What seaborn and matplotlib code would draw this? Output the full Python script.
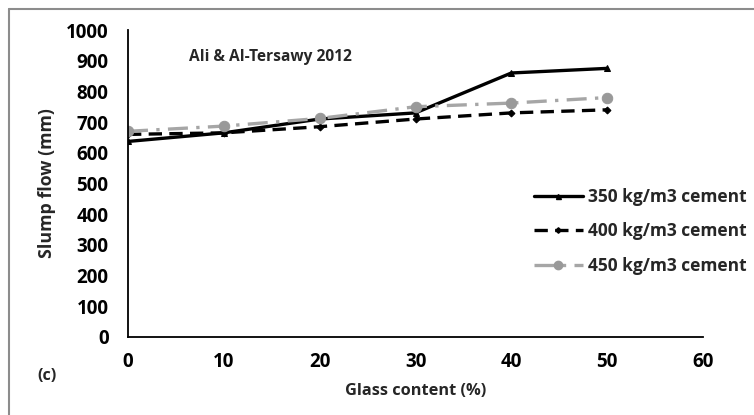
import matplotlib
matplotlib.use("Agg")
import matplotlib.pyplot as plt
import seaborn as sns
import pandas as pd
from matplotlib.lines import Line2D

glass = [0, 10, 20, 30, 40, 50]
c350 = [637, 665, 710, 730, 860, 875]
c400 = [660, 665, 685, 710, 730, 740]
c450 = [670, 687, 712, 750, 762, 780]
labels = ["350 kg/m3 cement", "400 kg/m3 cement", "450 kg/m3 cement"]

df = pd.DataFrame({
    "glass": glass * 3,
    "flow": c350 + c400 + c450,
    "series": [labels[0]] * 6 + [labels[1]] * 6 + [labels[2]] * 6,
})

sns.set_style("white")
FONT = ["Open Sans", "DejaVu Sans"]
plt.rcParams["font.family"] = FONT
plt.rcParams["font.weight"] = "bold"

fig = plt.figure(figsize=(7.54, 4.15), dpi=100)
W, H = 754, 415
ax = fig.add_axes([128 / W, 1 - 337 / H, (703 - 128) / W, (337 - 30) / H])

styles = {
    labels[0]: dict(color="black", ls="-", lw=2.4, marker="^", ms=4.5, mfc="black", mec="black"),
    labels[1]: dict(color="black", ls=(0, (4, 2.2)), lw=2.4, marker="D", ms=3.5, mfc="black", mec="black"),
    labels[2]: dict(color="#a6a6a6", ls=(0, (6, 2.5, 1, 2.5)), lw=2.4, marker="o", ms=7.5, mfc="#999999", mec="#999999"),
}
for lab in labels:
    sub = df[df["series"] == lab]
    sns.lineplot(data=sub, x="glass", y="flow", ax=ax, legend=False, **styles[lab])

ax.set_xlim(0, 60)
ax.set_ylim(0, 1000)
ax.set_xticks(range(0, 61, 10))
ax.set_yticks(range(0, 1001, 100))
for s in ["top", "right"]:
    ax.spines[s].set_visible(False)
for s in ["left", "bottom"]:
    ax.spines[s].set_color("black")
    ax.spines[s].set_linewidth(1.3)
ax.tick_params(axis="both", direction="in", length=5, width=1.3, colors="black",
               labelsize=13.5)
ax.tick_params(axis="x", pad=11)
ax.tick_params(axis="y", pad=14)
for t in ax.get_xticklabels() + ax.get_yticklabels():
    t.set_fontweight("bold")
ax.set_xlabel("Glass content (%)", fontsize=11.8, fontweight="bold", labelpad=8)
ax.set_ylabel("Slump flow (mm)", fontsize=12.8, fontweight="bold", labelpad=7)

ax.text(270 / W, 1 - 57 / H, "Ali & Al-Tersawy 2012", transform=fig.transFigure,
        ha="center", va="center", fontsize=11.2, fontweight="bold")
fig.text(47 / W, 1 - 376 / H, "(c)", ha="center", va="center", fontsize=11.5, fontweight="bold")

handles = [Line2D([], [], **styles[lab]) for lab in labels]
leg = ax.legend(handles, labels, loc="upper left", bbox_to_anchor=(534 / W, 1 - 188 / H),
                bbox_transform=fig.transFigure, frameon=False, fontsize=12.5,
                handlelength=2.8, handletextpad=0.3, labelspacing=0.95, borderaxespad=0,
                borderpad=0, markerscale=0.8)
for t in leg.get_texts():
    t.set_fontweight("bold")

fig.add_artist(Line2D([8.5 / W, 8.5 / W], [0, 1 - 9.5 / H], transform=fig.transFigure,
                      color="#8c8c8c", lw=1.5))
fig.add_artist(Line2D([8.5 / W, 1], [1 - 9.5 / H, 1 - 9.5 / H], transform=fig.transFigure,
                      color="#8c8c8c", lw=1.5))

fig.savefig("out.png", dpi=100, facecolor="white")
